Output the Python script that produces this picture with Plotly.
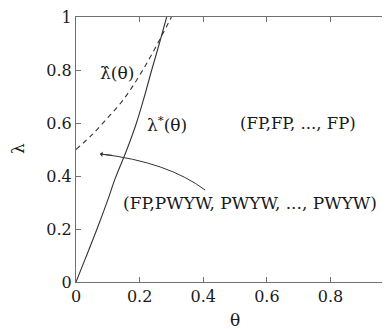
import plotly.graph_objects as go

# Data
theta_star = [0, 0.03, 0.066, 0.1, 0.123, 0.16, 0.19, 0.215, 0.238, 0.262, 0.285]
lam_star = [0, 0.09, 0.2, 0.31, 0.39, 0.5, 0.6, 0.7, 0.8, 0.9, 1.0]

theta_hat = [0, 0.05, 0.1, 0.15, 0.2, 0.25, 0.3]
lam_hat = [0.5, 0.555, 0.62, 0.69, 0.78, 0.885, 1.0]

x_ticks = [0, 0.2, 0.4, 0.6, 0.8]
y_ticks = [0, 0.2, 0.4, 0.6, 0.8, 1]

FONT = "DejaVu Serif"
AX = "#707070"
TXT = "#1a1a1a"

# page has an 8px body margin: shift the figure to compensate
OFF = 8
W, H = 390 - OFF, 329 - OFF
ML, MT = 76 - OFF, 17 - OFF
MB = H - MT - 265
PW = W - ML

fig = go.Figure()
fig.add_trace(go.Scatter(x=theta_star, y=lam_star, mode="lines", line=dict(color="#333333", width=1.1, shape="spline"), showlegend=False, hoverinfo="skip"))
fig.add_trace(go.Scatter(x=theta_hat, y=lam_hat, mode="lines", line=dict(color="#333333", width=1.1, dash="5px,4px", shape="spline"), showlegend=False, hoverinfo="skip"))
fig.add_trace(go.Scatter(x=[0], y=[0], yaxis="y2", mode="markers", marker=dict(opacity=0), showlegend=False, hoverinfo="skip"))

fig.add_shape(type="path", path="M 0.406,0.347 Q 0.288,0.453 0.078,0.483", xref="x", yref="y",
              line=dict(color="#333333", width=1))
fig.add_annotation(x=0.075, y=0.483, xref="x", yref="y", ax=14, ay=1.5, axref="pixel", ayref="pixel",
                   showarrow=True, arrowhead=1, arrowsize=0.9, arrowwidth=1, arrowcolor="#333333", text="")

def label(x, y, t, size=17):
    fig.add_annotation(x=x, y=y, xref="x", yref="y", text=t, showarrow=False,
                       font=dict(family=FONT, size=size, color=TXT), xanchor="center", yanchor="middle")

label(0.13, 0.79, "λ̂(θ)")
label(0.286, 0.598, "λ<sup>*</sup>(θ)")
label(0.698, 0.6, "(FP,FP, ..., FP)", 16.5)
label(0.548, 0.298, "(FP,PWYW, PWYW, ..., PWYW)")

fig.add_annotation(x=(18 - 76) / PW, y=(282 - 149) / 265, xref="paper", yref="paper", text="λ",
                   showarrow=False, textangle=-90, xanchor="center", yanchor="middle",
                   font=dict(family=FONT, size=17, color=TXT))
fig.add_annotation(x=(235 - 76) / PW, y=(282 - 320) / 265, xref="paper", yref="paper", text="θ",
                   showarrow=False, xanchor="center", yanchor="middle",
                   font=dict(family=FONT, size=17, color=TXT))

fig.update_layout(
    width=W, height=H,
    margin=dict(l=ML, r=0, t=MT, b=MB, autoexpand=False),
    plot_bgcolor="white", paper_bgcolor="white",
    font=dict(family=FONT, size=16, color=TXT),
    xaxis=dict(range=[0, 0.987], tickvals=x_ticks, showgrid=False, zeroline=False, automargin=False,
               showline=True, linecolor=AX, linewidth=1, mirror="ticks", ticklabeloverflow="allow",
               ticks="inside", ticklen=5, tickcolor=AX, tickfont=dict(family=FONT, size=16, color=TXT)),
    yaxis=dict(range=[0, 1], tickvals=y_ticks, showgrid=False, zeroline=False, automargin=False,
               showline=True, linecolor=AX, linewidth=1, ticklabeloverflow="allow",
               ticks="inside", ticklen=5, tickcolor=AX, tickfont=dict(family=FONT, size=16, color=TXT)),
    yaxis2=dict(range=[0, 1], overlaying="y", side="right", tickvals=y_ticks, showgrid=False,
                zeroline=False, showline=False, showticklabels=False, automargin=False,
                ticks="inside", ticklen=4, tickcolor=AX),
)

fig.write_html("out.html")
